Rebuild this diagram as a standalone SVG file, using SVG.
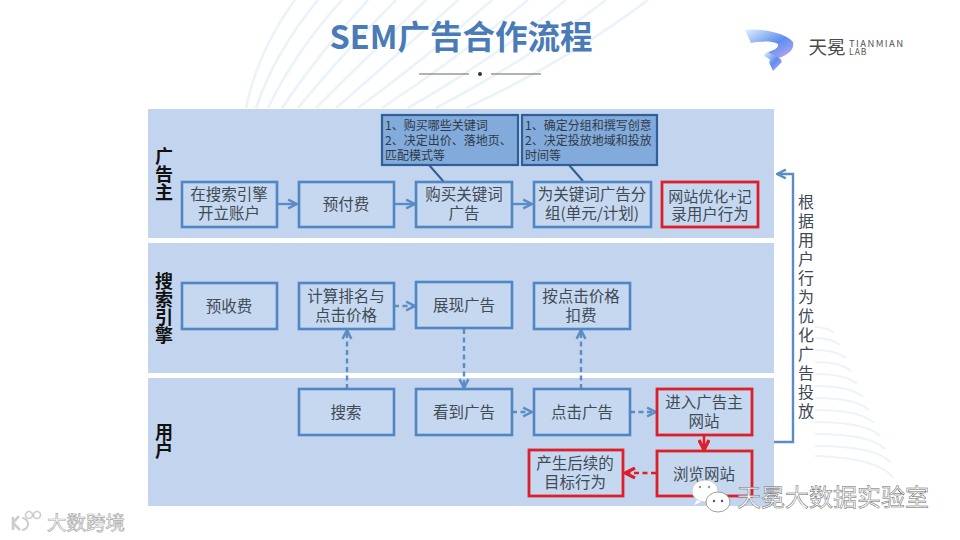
<svg xmlns="http://www.w3.org/2000/svg" width="960" height="540" viewBox="0 0 960 540">
<style>
text{font-family:"Noto Sans CJK SC","Noto Sans",sans-serif;fill:#404a55;text-anchor:middle}
.band{fill:#c3d5ee}
.box{fill:#c6d8ef;stroke:#4f86c3;stroke-width:2.6}
.red{fill:#c6d8ef;stroke:#dc1f28;stroke-width:2.8}
.note{fill:#82aadb;stroke:#2f5f96;stroke-width:2.2}
.t{font-size:15.5px}
.n{font-size:12px;text-anchor:start;fill:#2f3a48}
.lane{font-size:18px;font-weight:700;fill:#111;writing-mode:vertical-rl}
.side{font-size:16px;letter-spacing:3px;writing-mode:vertical-rl}
.c{fill:none;stroke:#5b8dc4;stroke-width:2.4}
.d{stroke-dasharray:5 3.5}
.r{fill:none;stroke:#dc1f28;stroke-width:2.6}
.bg{fill:none;stroke:#eaf3fa;stroke-width:2.6}
.bg2{fill:none;stroke:#edf3fa;stroke-width:2.2}
</style>
<defs>
<marker id="a" viewBox="0 0 10 10" refX="9" refY="5" markerWidth="4.6" markerHeight="4.6" orient="auto"><path d="M1 1L9 5L1 9" fill="none" stroke="#5b8dc4" stroke-width="2.2"/></marker>
<marker id="ar" viewBox="0 0 10 10" refX="9" refY="5" markerWidth="4.8" markerHeight="4.8" orient="auto"><path d="M1 1L9 5L1 9" fill="none" stroke="#dc1f28" stroke-width="2.6"/></marker>
<linearGradient id="lg" x1="0" y1="0" x2="1" y2="1"><stop offset="0" stop-color="#dff1f9"/><stop offset=".55" stop-color="#5f8cf0"/><stop offset="1" stop-color="#c3aef0"/></linearGradient>
</defs>
<rect width="960" height="540" fill="#fff"/>
<g id="background">
<path class="bg" d="M295 0Q258 50 246 108"/>
<path class="bg" d="M318 0Q275 52 256 108"/>
<path class="bg" d="M342 0Q295 52 268 108"/>
<path class="bg" d="M368 0Q318 54 282 108"/>
<path class="bg" d="M396 0Q342 54 298 108"/>
<path class="bg" d="M426 0Q368 56 316 108"/>
<path class="bg" d="M458 0Q396 56 336 108"/>
<path class="bg" d="M492 0Q426 58 358 108"/>
<path class="bg" d="M528 0Q458 58 382 108"/>
<path class="bg" d="M566 0Q492 60 408 108"/>
<path class="bg" d="M606 0Q528 60 436 108"/>
<path class="bg" d="M648 0Q566 62 466 108"/>
<path class="bg2" d="M815 327Q827 327 834 333"/>
<path class="bg2" d="M815 338Q831 338 840 345"/>
<path class="bg2" d="M815 350Q836 350 846 358"/>
<path class="bg2" d="M815 362Q841 362 851 371"/>
<path class="bg2" d="M815 374Q846 374 857 384"/>
<path class="bg2" d="M815 386Q851 386 863 397"/>
<path class="bg2" d="M815 398Q856 398 869 410"/>
<path class="bg2" d="M815 410Q861 410 874 423"/>
<path class="bg2" d="M815 422Q866 422 880 436"/>
<path class="bg2" d="M815 434Q871 434 885 449"/>
<path class="bg2" d="M815 446Q876 446 890 462"/>
<path class="bg2" d="M815 456Q880 458 893 478"/>
</g>
<g id="title">
<text x="461" y="49" font-size="32.5" font-weight="700" style="fill:#4a7bb7">SEM广告合作流程</text>
<path d="M419 74H469M491 74H541" stroke="#666" stroke-width="1" fill="none"/>
<circle cx="480" cy="74" r="2" fill="#333"/>
</g>
<g id="logo">
<path d="M745 30C765 28 786 34 793 42C795 50 787 56 775 59L768 52C775 50 779 47 778 44C770 40 757 42 751 43Z" fill="url(#lg)"/>
<path d="M766 52C778 56 784 60 781 63L773 71L769 62C772 60 768 58 764 56Z" fill="url(#lg)"/>
<text x="827" y="54" font-size="18.5" style="fill:#4a4a4a">天冕</text>
<text style="fill:#555;text-anchor:start"><tspan x="849" y="47" font-size="9.5" letter-spacing="1.4">TIANMIAN</tspan><tspan x="849" y="55" font-size="8.5" letter-spacing="1">LAB</tspan></text>
</g>
<g id="bands">
<rect class="band" x="148" y="109" width="626" height="129"/>
<rect class="band" x="148" y="243" width="626" height="130"/>
<rect class="band" x="148" y="378" width="626" height="128"/>
<text class="lane" x="164" y="174">广告主</text>
<text class="lane" x="164" y="308">搜索引擎</text>
<text class="lane" x="164" y="441">用户</text>
</g>
<g id="connectors">
<path class="c" d="M277 204H297" marker-end="url(#a)"/>
<path class="c" d="M394 204H415" marker-end="url(#a)"/>
<path class="c" d="M512 204H532" marker-end="url(#a)"/>
<path class="c" d="M429 165L444 182" style="stroke:#2f5f96;stroke-width:2"/>
<path class="c" d="M569 165L583 181" style="stroke:#2f5f96;stroke-width:2"/>
<path class="c d" d="M394 306H415" marker-end="url(#a)"/>
<path class="c d" d="M347 389V330" marker-end="url(#a)"/>
<path class="c d" d="M464 329V388" marker-end="url(#a)"/>
<path class="c d" d="M581 389V330" marker-end="url(#a)"/>
<path class="c d" d="M512 412H532" marker-end="url(#a)"/>
<path class="c d" d="M630 412H656" marker-end="url(#a)"/>
<path class="r" d="M704 436V450" marker-end="url(#ar)"/>
<path class="r d" d="M656 473H625" marker-end="url(#ar)"/>
<path class="c" d="M774 442H793V174H777" marker-end="url(#a)"/>
</g>
<g id="n1"><rect class="box" x="182" y="182" width="95" height="45"/><text class="t"><tspan x="229" y="200">在搜索引擎</tspan><tspan x="229" y="219">开立账户</tspan></text></g>
<g id="n2"><rect class="box" x="299" y="182" width="95" height="45"/><text class="t" x="346" y="210">预付费</text></g>
<g id="n3"><rect class="box" x="416" y="182" width="96" height="45"/><text class="t"><tspan x="464" y="200">购买关键词</tspan><tspan x="464" y="219">广告</tspan></text></g>
<g id="n4"><rect class="box" x="534" y="182" width="117" height="45"/><text class="t"><tspan x="592" y="200">为关键词广告分</tspan><tspan x="592" y="219">组(单元/计划)</tspan></text></g>
<g id="n5"><rect class="red" x="662" y="182" width="96" height="45"/><text class="t"><tspan x="710" y="202" font-size="15">网站优化+记</tspan><tspan x="710" y="220">录用户行为</tspan></text></g>
<g id="note1"><rect class="note" x="382" y="115" width="136" height="50"/><text class="n"><tspan x="385" y="130">1、购买哪些关键词</tspan><tspan x="385" y="145">2、决定出价、落地页、</tspan><tspan x="385" y="160">匹配模式等</tspan></text></g>
<g id="note2"><rect class="note" x="522" y="115" width="135" height="50"/><text class="n"><tspan x="525" y="130">1、确定分组和撰写创意</tspan><tspan x="525" y="145">2、决定投放地域和投放</tspan><tspan x="525" y="160">时间等</tspan></text></g>
<g id="n6"><rect class="box" x="182" y="283" width="95" height="46"/><text class="t" x="229" y="312">预收费</text></g>
<g id="n7"><rect class="box" x="299" y="283" width="95" height="46"/><text class="t"><tspan x="346" y="302">计算排名与</tspan><tspan x="346" y="321">点击价格</tspan></text></g>
<g id="n8"><rect class="box" x="416" y="282" width="96" height="46"/><text class="t" x="464" y="311">展现广告</text></g>
<g id="n9"><rect class="box" x="534" y="283" width="96" height="46"/><text class="t"><tspan x="581" y="302">按点击价格</tspan><tspan x="581" y="321">扣费</tspan></text></g>
<g id="n10"><rect class="box" x="299" y="389" width="95" height="46"/><text class="t" x="346" y="418">搜索</text></g>
<g id="n11"><rect class="box" x="416" y="389" width="96" height="46"/><text class="t" x="464" y="418">看到广告</text></g>
<g id="n12"><rect class="box" x="534" y="389" width="96" height="46"/><text class="t" x="582" y="418">点击广告</text></g>
<g id="n13"><rect class="red" x="657" y="389" width="95" height="46"/><text class="t"><tspan x="704" y="408">进入广告主</tspan><tspan x="704" y="427">网站</tspan></text></g>
<g id="n14"><rect class="red" x="657" y="451" width="95" height="45"/><text class="t" x="704" y="480">浏览网站</text></g>
<g id="n15"><rect class="red" x="529" y="450" width="94" height="46"/><text class="t"><tspan x="575" y="469">产生后续的</tspan><tspan x="575" y="488">目标行为</tspan></text></g>
<g id="feedback-label">
<text class="side" x="806" y="308">根据用户行为优化广告投放</text>
</g>
<g id="watermarks">
<ellipse cx="705" cy="491" rx="13" ry="11" fill="#fff" stroke="#bbb" stroke-width=".6"/>
<path d="M697 500L694 505L701 502Z" fill="#fff"/>
<ellipse cx="718" cy="502" rx="12" ry="10" fill="#fff" stroke="#888" stroke-width=".8"/>
<circle cx="700" cy="487" r="1.2" fill="#999"/><circle cx="709" cy="487" r="1.2" fill="#999"/>
<circle cx="714" cy="501" r="1.2" fill="#555"/><circle cx="722" cy="501" r="1.2" fill="#555"/>
<text x="833" y="506" font-size="24" style="fill:#fff;stroke:#666;stroke-width:.5">天冕大数据实验室</text>
<path d="M13 517V530M19 516L13 523L20 530" fill="none" stroke="#ccc" stroke-width="2.6"/>
<path d="M22 518A6 6 0 1 1 22 530" fill="none" stroke="#ccc" stroke-width="2"/>
<circle cx="29" cy="515" r="3.5" fill="none" stroke="#ccc" stroke-width="1.6"/>
<circle cx="37" cy="515" r="3.5" fill="none" stroke="#ccc" stroke-width="1.6"/>
<text x="86" y="530" font-size="19.5" style="fill:#fff;stroke:#aaa;stroke-width:.7">大数跨境</text>
</g>
</svg>
